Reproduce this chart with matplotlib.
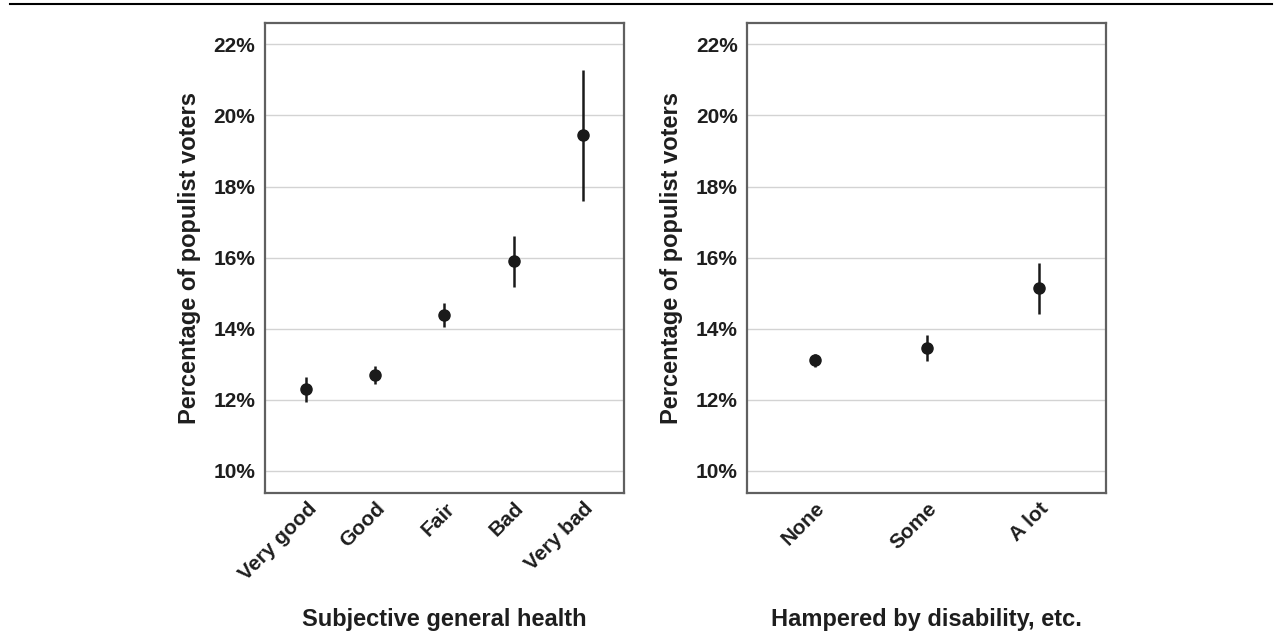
import matplotlib
matplotlib.use("Agg")
import matplotlib.pyplot as plt
import matplotlib.transforms as mtransforms
from matplotlib.lines import Line2D
from matplotlib.ticker import FuncFormatter

# values (percent)
health_cats = ["Very good", "Good", "Fair", "Bad", "Very bad"]
health_mean = [12.31, 12.70, 14.39, 15.91, 19.44]
health_lo = [11.95, 12.45, 14.04, 15.18, 17.59]
health_hi = [12.64, 12.94, 14.72, 16.62, 21.27]

disab_cats = ["None", "Some", "A lot"]
disab_mean = [13.12, 13.46, 15.14]
disab_lo = [12.93, 13.09, 14.42]
disab_hi = [13.29, 13.82, 15.86]

yticks = [10, 12, 14, 16, 18, 20, 22]

plt.rcParams['font.family'] = ['Liberation Sans', 'DejaVu Sans']
plt.rcParams['font.weight'] = 'bold'
txt = '#1e1e1e'
dot = '#1a1a1a'

fig = plt.figure(figsize=(12.8, 6.38), dpi=100)
ax1 = fig.add_axes([0.207, 0.2273, 0.2805, 0.7367])
ax2 = fig.add_axes([0.5838, 0.2273, 0.2802, 0.7367])

fig.add_artist(Line2D([10 / 1280, 1272 / 1280], [1 - 4 / 638, 1 - 4 / 638],
                      transform=fig.transFigure, color='black', lw=1.5))

shift = mtransforms.ScaledTranslation(7 / 100, 0, fig.dpi_scale_trans)


def panel(ax, cats, mean, lo, hi, xlabel):
    x = list(range(len(cats)))
    yerr = [[m - l for m, l in zip(mean, lo)], [h - m for m, h in zip(mean, hi)]]
    ax.errorbar(x, mean, yerr=yerr, fmt='o', color=dot, ms=8, elinewidth=1.8,
                capsize=0, zorder=3)
    ax.set_xlim(-0.6, len(cats) - 0.4)
    ax.set_ylim(9.38, 22.6)
    ax.set_yticks(yticks)
    ax.yaxis.set_major_formatter(FuncFormatter(lambda v, p: f"{v:.0f}%"))
    ax.grid(axis='y', color='#d3d3d3', lw=1.0)
    ax.set_axisbelow(True)
    for s in ax.spines.values():
        s.set_color('#606060')
        s.set_linewidth(1.6)
    ax.tick_params(length=0, labelsize=15, labelcolor=txt)
    ax.tick_params(axis='y', pad=7)
    ax.tick_params(axis='x', pad=9)
    ax.set_xticks(x)
    ax.set_xticklabels(cats, rotation=45, ha='right', va='center',
                       rotation_mode='anchor')
    for lab in ax.get_xticklabels():
        lab.set_transform(lab.get_transform() + shift)
    ax.set_ylabel("Percentage of populist voters", fontsize=17, color=txt,
                  fontweight='bold')
    ax.yaxis.set_label_coords(-0.178, 0.5)
    ax.set_xlabel(xlabel, fontsize=17, color=txt, fontweight='bold')
    ax.xaxis.set_label_coords(0.5, -0.245)


panel(ax1, health_cats, health_mean, health_lo, health_hi,
      "Subjective general health")
panel(ax2, disab_cats, disab_mean, disab_lo, disab_hi,
      "Hampered by disability, etc.")

fig.savefig("out.png", dpi=100)
